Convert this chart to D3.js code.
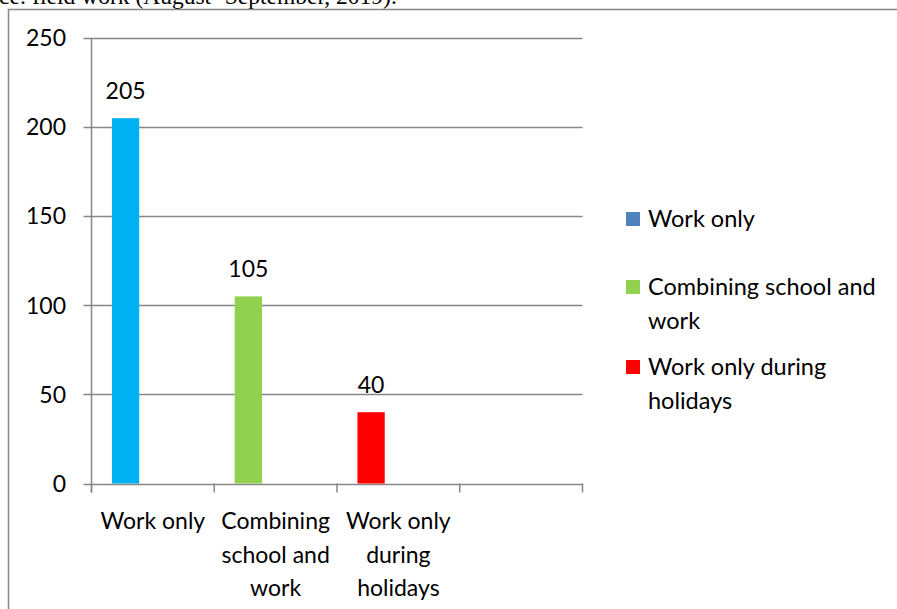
<!DOCTYPE html>
<html><head><meta charset="utf-8">
<script src="https://cdn.jsdelivr.net/npm/d3@7"></script>
<style>body{margin:0;background:#fff;}svg{display:block;}</style>
</head><body>
<svg id="c" width="897" height="609"></svg>
<script>
const categories = ["Work only", "Combining school and work", "Work only during holidays", ""];
const categoryLines = [["Work only"], ["Combining", "school and", "work"], ["Work only", "during", "holidays"], []];
const values = [205, 105, 40, null];
const barColors = ["#00B0F0", "#92D050", "#FF0000"];
const legendLabels = [["Work only"], ["Combining school and", "work"], ["Work only during", "holidays"]];
const legendColors = ["#4F81BD", "#92D050", "#FF0000"];
const yTicks = [0, 50, 100, 150, 200, 250];
const caption = "ce: field work (August- September, 2019).";

(function () {
const svg = d3.select("#c");
const font = "Lato, 'Open Sans', sans-serif";
const fs = 23;
const grey = "#878787";

svg.append("text").attr("x", -1).attr("y", 4).attr("font-family", "'Liberation Serif', serif")
  .attr("font-size", 23.5).attr("fill", "#000").text(caption);

svg.append("path").attr("d", "M8.5,620 V9.5 H910").attr("fill", "none").attr("stroke", grey).attr("stroke-width", 1.5);

const pl = 91.5, pr = 582.5, pt = 38, pb = 483.5;
const y = d3.scaleLinear().domain([0, 250]).range([pb, pt]);
const x0 = d3.scaleBand().domain(d3.range(categories.length)).range([pl, pr]).padding(0);
const x1 = d3.scaleBand().domain([0, 1, 2]).range([0, x0.bandwidth()]).paddingInner(0).paddingOuter(0.75);

svg.append("g").selectAll("line").data(yTicks).join("line")
  .attr("x1", pl - 8).attr("x2", pr).attr("y1", d => Math.round(y(d)) + 0.5).attr("y2", d => Math.round(y(d)) + 0.5)
  .attr("stroke", grey).attr("stroke-width", 1.5);

svg.append("line").attr("x1", pl).attr("x2", pl).attr("y1", pt).attr("y2", pb + 9)
  .attr("stroke", grey).attr("stroke-width", 1.5);

svg.append("g").selectAll("line").data(d3.range(categories.length + 1)).join("line")
  .attr("x1", i => i < categories.length ? x0(i) : pr).attr("x2", i => i < categories.length ? x0(i) : pr)
  .attr("y1", pb).attr("y2", pb + 9).attr("stroke", grey).attr("stroke-width", 1.5);

svg.append("g").selectAll("text").data(yTicks).join("text")
  .attr("x", 66).attr("y", d => y(d)).attr("dy", "0.36em").attr("text-anchor", "end")
  .attr("font-family", font).attr("font-size", fs).attr("fill", "#000").text(d => d);

const bd = values.map((v, i) => ({v, i})).filter(d => d.v != null);
svg.append("g").selectAll("rect").data(bd).join("rect")
  .attr("x", d => x0(d.i) + x1(0)).attr("width", x1.bandwidth())
  .attr("y", d => y(d.v)).attr("height", d => y(0) - y(d.v))
  .attr("fill", d => barColors[d.i]);

svg.append("g").selectAll("text").data(bd).join("text")
  .attr("x", d => x0(d.i) + x1(0) + x1.bandwidth() / 2).attr("y", d => y(d.v) - 19)
  .attr("text-anchor", "middle").attr("font-family", font).attr("font-size", fs).attr("fill", "#000")
  .text(d => d.v);

categoryLines.forEach((lines, i) => {
  lines.forEach((ln, j) => {
    svg.append("text").attr("x", x0(i) + x0.bandwidth() / 2).attr("y", 529 + j * 33.5)
      .attr("text-anchor", "middle").attr("font-family", font).attr("font-size", fs).attr("fill", "#000").text(ln);
  });
});

const legY = [219, 287, 367];
legendLabels.forEach((lines, i) => {
  svg.append("rect").attr("x", 626).attr("y", legY[i] - 7).attr("width", 14).attr("height", 14).attr("fill", legendColors[i]);
  lines.forEach((ln, j) => {
    svg.append("text").attr("x", 648).attr("y", legY[i] + j * 33.5).attr("dy", "0.36em")
      .attr("font-family", font).attr("font-size", fs + 0.5).attr("fill", "#000").text(ln);
  });
});
})();
</script>
</body></html>
